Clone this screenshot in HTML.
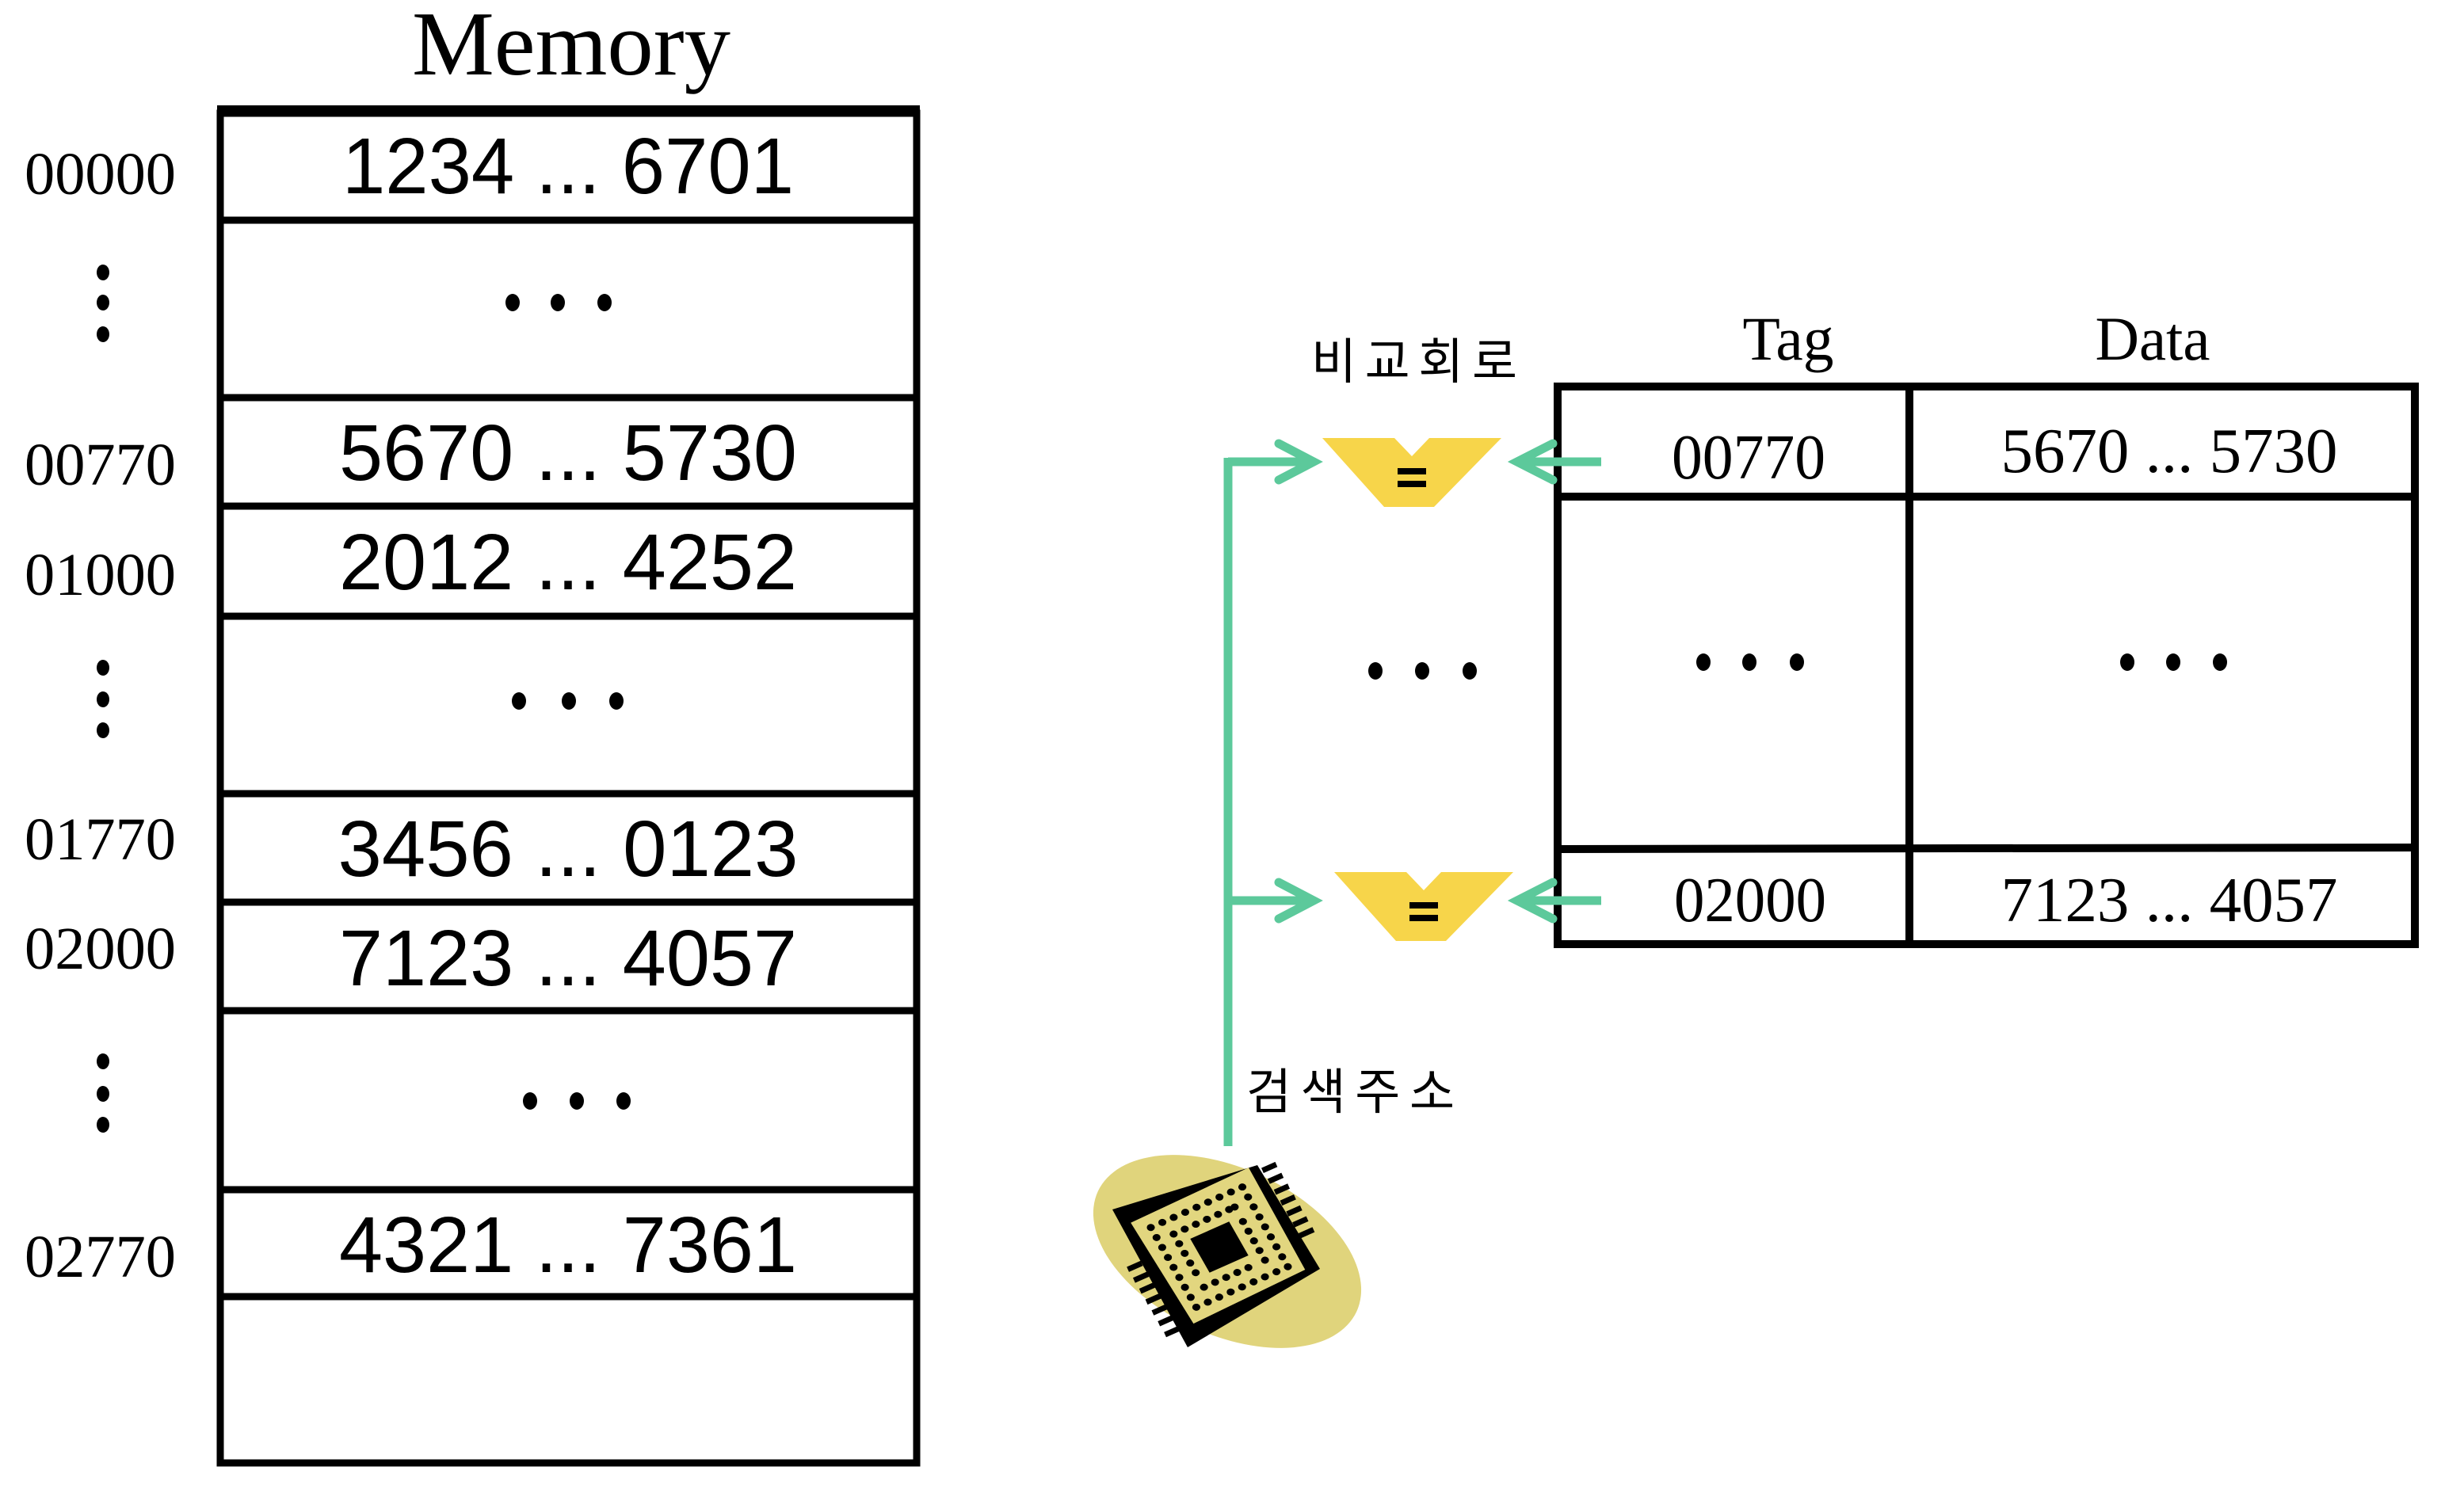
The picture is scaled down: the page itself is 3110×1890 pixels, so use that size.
<!DOCTYPE html>
<html><head><meta charset="utf-8"><style>
html,body{margin:0;padding:0;background:#fff;}
svg{display:block;}
.sans{font-family:"Liberation Sans",sans-serif;}
.serif{font-family:"Liberation Serif",serif;}
.kr{font-family:"Liberation Sans","Noto Sans CJK KR",sans-serif;}
</style></head><body>
<svg width="3110" height="1890" viewBox="0 0 3110 1890" xmlns="http://www.w3.org/2000/svg">
<rect width="3110" height="1890" fill="#fff"/>
<!-- Memory title -->
<text x="721" y="94" class="serif" font-size="115" text-anchor="middle" textLength="402" lengthAdjust="spacingAndGlyphs">Memory</text>
<!-- Memory box -->
<g stroke="#000" fill="none">
<rect x="278" y="143" width="879" height="1704" stroke-width="9"/>
<line x1="274" y1="139" x2="1161" y2="139" stroke-width="12"/>
<g stroke-width="9">
<line x1="274" y1="278" x2="1161" y2="278"/>
<line x1="274" y1="502" x2="1161" y2="502"/>
<line x1="274" y1="639" x2="1161" y2="639"/>
<line x1="274" y1="778" x2="1161" y2="778"/>
<line x1="274" y1="1002" x2="1161" y2="1002"/>
<line x1="274" y1="1139" x2="1161" y2="1139"/>
<line x1="274" y1="1276" x2="1161" y2="1276"/>
<line x1="274" y1="1502" x2="1161" y2="1502"/>
<line x1="274" y1="1637" x2="1161" y2="1637"/>
</g></g>
<g class="sans" font-size="100" text-anchor="middle">
<text x="717" y="244" textLength="570" lengthAdjust="spacingAndGlyphs">1234 ... 6701</text>
<text x="717" y="606" textLength="578" lengthAdjust="spacingAndGlyphs">5670 ... 5730</text>
<text x="717" y="744" textLength="578" lengthAdjust="spacingAndGlyphs">2012 ... 4252</text>
<text x="717" y="1106" textLength="581" lengthAdjust="spacingAndGlyphs">3456 ... 0123</text>
<text x="717" y="1244" textLength="578" lengthAdjust="spacingAndGlyphs">7123 ... 4057</text>
<text x="717" y="1606" textLength="578" lengthAdjust="spacingAndGlyphs">4321 ... 7361</text>
</g>
<g class="serif" font-size="76">
<text x="31" y="245" textLength="191" lengthAdjust="spacingAndGlyphs">00000</text>
<text x="31" y="612" textLength="191" lengthAdjust="spacingAndGlyphs">00770</text>
<text x="31" y="751" textLength="191" lengthAdjust="spacingAndGlyphs">01000</text>
<text x="31" y="1085" textLength="191" lengthAdjust="spacingAndGlyphs">01770</text>
<text x="31" y="1223" textLength="191" lengthAdjust="spacingAndGlyphs">02000</text>
<text x="31" y="1612" textLength="191" lengthAdjust="spacingAndGlyphs">02770</text>
</g>
<!-- dots -->
<g fill="#000">
<ellipse cx="130" cy="344" rx="8" ry="10"/><ellipse cx="130" cy="382" rx="8" ry="10"/><ellipse cx="130" cy="422" rx="8" ry="10"/>
<ellipse cx="130" cy="843" rx="8" ry="10"/><ellipse cx="130" cy="883" rx="8" ry="10"/><ellipse cx="130" cy="922" rx="8" ry="10"/>
<ellipse cx="130" cy="1340" rx="8" ry="10"/><ellipse cx="130" cy="1381" rx="8" ry="10"/><ellipse cx="130" cy="1420" rx="8" ry="10"/>
<ellipse cx="647" cy="382" rx="9" ry="11"/><ellipse cx="704" cy="382" rx="9" ry="11"/><ellipse cx="763" cy="382" rx="9" ry="11"/>
<ellipse cx="655" cy="885" rx="9" ry="11"/><ellipse cx="718" cy="885" rx="9" ry="11"/><ellipse cx="778" cy="885" rx="9" ry="11"/>
<ellipse cx="669" cy="1390" rx="9" ry="11"/><ellipse cx="728" cy="1390" rx="9" ry="11"/><ellipse cx="787" cy="1390" rx="9" ry="11"/>
<ellipse cx="1736" cy="847" rx="9" ry="11"/><ellipse cx="1795" cy="847" rx="9" ry="11"/><ellipse cx="1855" cy="847" rx="9" ry="11"/>
<ellipse cx="2150" cy="836" rx="9" ry="11"/><ellipse cx="2208" cy="836" rx="9" ry="11"/><ellipse cx="2268" cy="836" rx="9" ry="11"/>
<ellipse cx="2685" cy="836" rx="9" ry="11"/><ellipse cx="2743" cy="836" rx="9" ry="11"/><ellipse cx="2802" cy="836" rx="9" ry="11"/>
</g>
<!-- Cache table -->
<g stroke="#000" stroke-width="10" fill="none">
<rect x="1966" y="488" width="1082" height="704"/>
<line x1="2410" y1="488" x2="2410" y2="1192"/>
<line x1="1966" y1="627" x2="3048" y2="627"/>
<line x1="1966" y1="1072" x2="3048" y2="1070"/>
</g>
<g class="serif" text-anchor="middle">
<text x="2257" y="454" font-size="78" textLength="115" lengthAdjust="spacingAndGlyphs">Tag</text>
<text x="2717" y="454" font-size="78" textLength="145" lengthAdjust="spacingAndGlyphs">Data</text>
<text x="2207" y="604" font-size="80" textLength="194" lengthAdjust="spacingAndGlyphs">00770</text>
<text x="2738" y="596" font-size="80" textLength="425" lengthAdjust="spacingAndGlyphs">5670 ... 5730</text>
<text x="2209" y="1163" font-size="80" textLength="192" lengthAdjust="spacingAndGlyphs">02000</text>
<text x="2738" y="1163" font-size="80" textLength="425" lengthAdjust="spacingAndGlyphs">7123 ... 4057</text>
</g>
<!-- Korean labels -->
<text x="1655" y="478" class="kr" font-size="62" textLength="260" lengthAdjust="spacing">비교회로</text>
<text x="1573" y="1400" class="kr" font-size="62" textLength="263" lengthAdjust="spacing">검색주소</text>
<!-- comparators -->
<g fill="#F7D54A">
<polygon points="1669,553 1760,553 1782,576 1804,553 1895,553 1810,640 1747,640"/>
<polygon points="1684,1101 1775,1101 1797,1124 1819,1101 1910,1101 1825,1188 1762,1188"/>
</g>
<g fill="#000">
<rect x="1764" y="591" width="36" height="8"/><rect x="1764" y="607" width="36" height="8"/>
<rect x="1779" y="1139" width="36" height="8"/><rect x="1779" y="1155" width="36" height="8"/>
</g>
<!-- green connectors -->
<g stroke="#5CC99B" stroke-width="11" fill="none" stroke-linecap="round" stroke-linejoin="miter">
<line x1="1550" y1="578" x2="1550" y2="1447" stroke-linecap="butt"/>
<line x1="1550" y1="583" x2="1652" y2="583" stroke-linecap="butt"/>
<polyline points="1614,560 1658,583 1614,606"/>
<line x1="1550" y1="1137" x2="1652" y2="1137" stroke-linecap="butt"/>
<polyline points="1614,1114 1658,1137 1614,1160"/>
<line x1="1920" y1="583" x2="2021" y2="583" stroke-linecap="butt"/>
<polyline points="1960,560 1915,583 1960,606"/>
<line x1="1920" y1="1137" x2="2021" y2="1137" stroke-linecap="butt"/>
<polyline points="1960,1114 1915,1137 1960,1160"/>
</g>
<!-- chip -->
<ellipse cx="1549" cy="1580" rx="180" ry="105" transform="rotate(25 1549 1580)" fill="#E0D47C"/>
<polygon points="1404,1527 1587,1471 1666,1602 1499,1701" fill="#000"/>
<g transform="matrix(1.75,-0.775,0.87,1.525,1408,1537)">
<polygon points="7,8 93,6 92,90 10,93" fill="#E2D67F"/>
<rect x="36" y="36" width="28" height="28" fill="#000"/>
<g fill="#000">
<circle cx="17" cy="17" r="2.6"/><circle cx="25.3" cy="17" r="2.6"/><circle cx="33.5" cy="17" r="2.6"/><circle cx="41.8" cy="17" r="2.6"/><circle cx="50" cy="17" r="2.6"/><circle cx="58.3" cy="17" r="2.6"/><circle cx="66.5" cy="17" r="2.6"/><circle cx="74.8" cy="17" r="2.6"/><circle cx="83" cy="17" r="2.6"/>
<circle cx="17" cy="83" r="2.6"/><circle cx="25.3" cy="83" r="2.6"/><circle cx="33.5" cy="83" r="2.6"/><circle cx="41.8" cy="83" r="2.6"/><circle cx="50" cy="83" r="2.6"/><circle cx="58.3" cy="83" r="2.6"/><circle cx="66.5" cy="83" r="2.6"/><circle cx="74.8" cy="83" r="2.6"/><circle cx="83" cy="83" r="2.6"/>
<circle cx="17" cy="25.3" r="2.6"/><circle cx="17" cy="33.5" r="2.6"/><circle cx="17" cy="41.8" r="2.6"/><circle cx="17" cy="50" r="2.6"/><circle cx="17" cy="58.3" r="2.6"/><circle cx="17" cy="66.5" r="2.6"/><circle cx="17" cy="74.8" r="2.6"/>
<circle cx="83" cy="25.3" r="2.6"/><circle cx="83" cy="33.5" r="2.6"/><circle cx="83" cy="41.8" r="2.6"/><circle cx="83" cy="50" r="2.6"/><circle cx="83" cy="58.3" r="2.6"/><circle cx="83" cy="66.5" r="2.6"/><circle cx="83" cy="74.8" r="2.6"/>
<circle cx="28" cy="28" r="2.6"/><circle cx="36" cy="28" r="2.6"/><circle cx="44" cy="28" r="2.6"/><circle cx="52" cy="28" r="2.6"/><circle cx="60" cy="28" r="2.6"/><circle cx="68" cy="28" r="2.6"/>
<circle cx="28" cy="72" r="2.6"/><circle cx="36" cy="72" r="2.6"/><circle cx="44" cy="72" r="2.6"/><circle cx="52" cy="72" r="2.6"/><circle cx="60" cy="72" r="2.6"/><circle cx="72" cy="72" r="2.6"/>
<circle cx="28" cy="36" r="2.6"/><circle cx="28" cy="44" r="2.6"/><circle cx="28" cy="52" r="2.6"/><circle cx="28" cy="60" r="2.6"/>
<circle cx="72" cy="28" r="2.6"/><circle cx="72" cy="40" r="2.6"/><circle cx="72" cy="48" r="2.6"/><circle cx="72" cy="56" r="2.6"/><circle cx="72" cy="64" r="2.6"/>
</g>
<g stroke="#000" stroke-width="7" vector-effect="non-scaling-stroke">
<line x1="0" y1="38" x2="-10" y2="38" vector-effect="non-scaling-stroke"/>
<line x1="0" y1="47" x2="-10" y2="47" vector-effect="non-scaling-stroke"/>
<line x1="0" y1="56" x2="-10" y2="56" vector-effect="non-scaling-stroke"/>
<line x1="0" y1="65" x2="-10" y2="65" vector-effect="non-scaling-stroke"/>
<line x1="0" y1="74" x2="-10" y2="74" vector-effect="non-scaling-stroke"/>
<line x1="0" y1="83" x2="-10" y2="83" vector-effect="non-scaling-stroke"/>
<line x1="0" y1="92" x2="-10" y2="92" vector-effect="non-scaling-stroke"/>
<line x1="100" y1="12" x2="110" y2="12" vector-effect="non-scaling-stroke"/>
<line x1="100" y1="21" x2="110" y2="21" vector-effect="non-scaling-stroke"/>
<line x1="100" y1="30" x2="110" y2="30" vector-effect="non-scaling-stroke"/>
<line x1="100" y1="39" x2="110" y2="39" vector-effect="non-scaling-stroke"/>
<line x1="100" y1="48" x2="110" y2="48" vector-effect="non-scaling-stroke"/>
<line x1="100" y1="57" x2="110" y2="57" vector-effect="non-scaling-stroke"/>
<line x1="100" y1="66" x2="110" y2="66" vector-effect="non-scaling-stroke"/>
</g>
</g>
</svg>
</body></html>
